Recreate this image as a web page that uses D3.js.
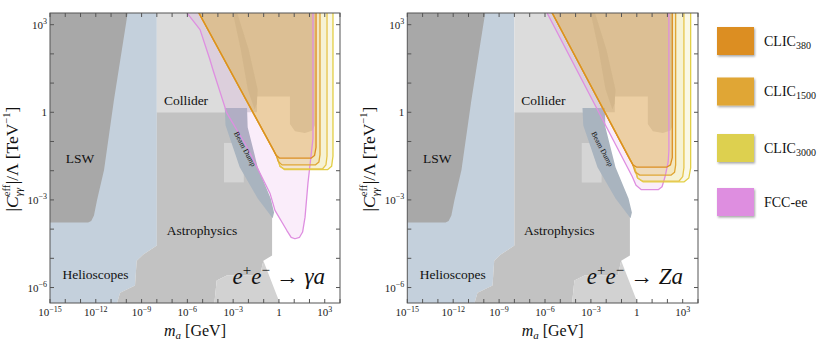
<!DOCTYPE html>
<html><head><meta charset="utf-8">
<script src="https://cdn.jsdelivr.net/npm/d3@7"></script>
<style>body{margin:0;background:#fff} svg{display:block}</style>
</head><body>
<svg id="c" width="831" height="341"></svg>
<script>
// ---------- data (log10 units: [log10 m_a/GeV, log10 C/Λ TeV^-1]) ----------
const xTickExps = [-15, -12, -9, -6, -3, 0, 3];
const yTickExps = [-6, -3, 0, 3];
const xMinorExps = d3.range(-15, 5);
const yMinorExps = d3.range(-6, 4);

const helioscopes = [[-15,3.6],[-8.0,3.6],[-8.0,-4.56],[-8.89,-4.87],[-9.32,-5.08],[-9.43,-5.93],[-10.41,-6.18],[-10.87,-7],[-15,-7]];
const lsw = [[-15,3.6],[-9.85,3.6],[-10.81,0.42],[-11.46,-1.98],[-11.92,-3.01],[-12.12,-3.53],[-12.3,-3.72],[-12.5,-3.77],[-15,-3.77]];
const collider = [[-8.0,3.6],[2.36,3.6],[2.36,-0.44],[2.2,-0.62],[1.7,-0.71],[1.05,-0.65],[0.72,-0.4],[0.72,0.54],[-1.44,0.54],[-1.44,0],[-8.0,0]];
const colliderDark = [[-3.1,3.6],[-2.85,3.6],[-1.98,2.14],[-1.39,0.77],[-1.45,0.3],[-1.59,0.1],[-1.8,0.4],[-2.04,0.77],[-2.5,2.14]];
const astro = [[-8,0],[-3.53,0],[-0.39,-3.4],[-0.45,-3.59],[-0.45,-4.9],[-1.02,-5.08],[-1.24,-5.59],[-3.42,-5.59],[-4.08,-5.76],[-4.32,-7],[-10.87,-7],[-10.41,-6.18],[-9.43,-5.93],[-9.32,-5.08],[-8.89,-4.87],[-8.0,-4.56]];
const astroLight = [[-4.32,-7],[-4.08,-5.76],[-3.42,-5.59],[-1.24,-5.59],[-1.02,-5.08],[0.07,-6.55],[0.12,-7]];
const astroRect = [[-3.6,-1.05],[-2.3,-1.05],[-2.3,-2.4],[-3.6,-2.4]];
const beamDump = [[-3.55,0.15],[-2.09,0.15],[-2.05,-0.51],[-1.39,-1.88],[-0.54,-2.95],[-0.32,-3.43],[-0.41,-3.63],[-1.39,-2.95],[-2.57,-1.88],[-3.5,-0.44]];

// e+e- -> gamma a
const clic380GA = [[-5.45,3.6],[-0.35,-1.3],[-0.2,-1.46],[0.05,-1.57],[2.1,-1.57],[2.33,-1.48],[2.43,-1.2],[2.43,3.6]];
const clic1500GA = [[-5.45,3.6],[-0.2,-1.45],[-0.05,-1.68],[0.2,-1.8],[2.4,-1.8],[2.62,-1.7],[2.69,-1.45],[2.69,3.6]];
const clic3000GA = [[-5.45,3.6],[-0.1,-1.55],[0.07,-1.85],[0.35,-1.96],[3.2,-1.96],[3.45,-1.85],[3.54,-1.5],[3.54,3.6]];
const clic3000bGA = [[-5.45,3.6],[-0.1,-1.55],[0.07,-1.85],[0.35,-1.94],[2.85,-1.94],[3.08,-1.8],[3.15,-1.5],[3.15,3.6]];
const fccGA = [[-6.1,3.6],[-6.04,3.41],[-5.17,2.83],[-4.52,1.8],[-4.32,1.45],[-3.42,-0.02],[-2.11,-1.18],[-0.59,-2.77],[-0.26,-3.36],[0.51,-4.04],[0.8,-4.28],[1.05,-4.33],[1.35,-4.28],[1.55,-4.1],[1.71,-3.59],[1.9,-2.43],[2.1,-1.5],[2.23,-0.9],[2.23,3.6]];
// e+e- -> Z a
const clic380ZA = [[-5.73,3.6],[-0.45,-1.62],[-0.25,-1.8],[0.0,-1.88],[1.95,-1.88],[2.2,-1.8],[2.32,-1.55],[2.32,3.6]];
const clic1500ZA = [[-5.73,3.6],[-0.3,-1.75],[-0.1,-2.05],[0.2,-2.15],[2.25,-2.15],[2.47,-2.05],[2.54,-1.8],[2.54,3.6]];
const clic3000ZA = [[-5.73,3.6],[-0.15,-1.9],[0.05,-2.25],[0.4,-2.38],[3.1,-2.38],[3.4,-2.25],[3.52,-1.9],[3.52,3.6]];
const clic3000bZA = [[-5.73,3.6],[-0.15,-1.9],[0.05,-2.25],[0.4,-2.36],[2.75,-2.36],[3.0,-2.2],[3.08,-1.9],[3.08,3.6]];
const fccZA = [[-6.06,3.6],[-0.3,-2.2],[-0.05,-2.5],[0.3,-2.65],[1.4,-2.65],[1.65,-2.55],[1.85,-2.2],[2.05,-1.7],[2.1,-1.3],[2.1,3.6]];

const legendNames = ["CLIC", "CLIC", "CLIC", "FCC-ee"];
const legendSubs = ["380", "1500", "3000", ""];
const legendColors = ["#dc8e22", "#e0a634", "#ddd050", "#de8ee0"];

// ---------- drawing ----------
const svg = d3.select('#c');
const SERIF = "'Liberation Serif', 'DejaVu Serif', serif";
const pTop = 13, pBottom = 303;
const yS = d3.scaleLog().domain([10**-6.53, 10**3.4]).range([pBottom, pTop]);

const defs = svg.append('defs');
const flt = defs.append('filter').attr('id','sh').attr('x','-20%').attr('y','-20%').attr('width','150%').attr('height','150%');
flt.append('feDropShadow').attr('dx',1).attr('dy',1.5).attr('stdDeviation',1.2).attr('flood-color','#000').attr('flood-opacity',0.35);

const panels = [
  {left:50, right:340, proc:'γa', c380:clic380GA, c1500:clic1500GA, c3000:clic3000GA, c3000b:clic3000bGA, fcc:fccGA},
  {left:407.3, right:698, proc:'Za', c380:clic380ZA, c1500:clic1500ZA, c3000:clic3000ZA, c3000b:clic3000bZA, fcc:fccZA}
];

function supLabel(sel, e){
  if(e===0){ sel.text('1'); return; }
  sel.append('tspan').text('10');
  sel.append('tspan').attr('dy',-4.5).attr('font-size',8).text(e<0 ? '−'+(-e) : String(e));
}

panels.forEach((p,i)=>{
  const xS = d3.scaleLog().domain([1e-15, 1e4]).range([p.left, p.right]);
  const line = d3.line().x(d=>xS(10**d[0])).y(d=>yS(10**d[1]));
  const cid = 'clip'+i;
  defs.append('clipPath').attr('id',cid).append('rect')
    .attr('x',p.left).attr('y',pTop).attr('width',p.right-p.left).attr('height',pBottom-pTop);
  const g = svg.append('g').attr('clip-path',`url(#${cid})`);
  g.append('rect').attr('x',p.left).attr('y',pTop).attr('width',p.right-p.left).attr('height',pBottom-pTop).attr('fill','#fff');
  const poly = (d,fill)=>g.append('path').attr('d',line(d)+'Z').attr('fill',fill);
  poly(helioscopes,'#c4d0dc');
  poly(lsw,'#a8a8a8');
  poly(collider,'#dcdcdc');
  poly(colliderDark,'#cacaca');
  poly(astro,'#c2c2c2');
  poly(astroLight,'#d2d2d2');
  poly(astroRect,'#d5d5d5');
  poly(beamDump,'#a9b4bf');

  // overlays
  const fills = [[p.fcc,'#de8ee0',0.16],[p.c3000,'#ddd050',0.14],[p.c3000b,'#ddd050',0.12],[p.c1500,'#e0a634',0.13],[p.c380,'#dc8e22',0.15]];
  fills.forEach(([d,c,o])=>g.append('path').attr('d',line(d)+'Z').attr('fill',c).attr('fill-opacity',o));
  const strokes = [[p.fcc,'#de8ee0'],[p.c3000,'#e2cf45'],[p.c3000b,'#e6c54a'],[p.c1500,'#e0a634'],[p.c380,'#dc8e22']];
  strokes.forEach(([d,c])=>g.append('path').attr('d',line(d)).attr('fill','none').attr('stroke',c).attr('stroke-width',1.3).attr('stroke-linejoin','round'));

  // region labels
  const txt = (x,y,s,fs)=>svg.append('text').attr('x',x).attr('y',y).attr('text-anchor','middle')
    .attr('dominant-baseline','central').attr('font-family',SERIF).attr('font-size',fs).attr('fill','#111').text(s);
  txt(p.left+136, 100, 'Collider', 13.5);
  txt(p.left+30, 158, 'LSW', 13.5);
  txt(p.left+152, 230, 'Astrophysics', 13.5);
  txt(p.left+45.5, 274.5, 'Helioscopes', 13.5);
  svg.append('text').attr('font-family',SERIF).attr('font-size',7.5).attr('fill','#111')
    .attr('text-anchor','middle').attr('dominant-baseline','central')
    .attr('transform',`translate(${p.left+195},149) rotate(62)`).text('Beam Dump');

  // process label
  const pt = svg.append('text').attr('x',p.right-15).attr('y',284).attr('text-anchor','end')
    .attr('font-family',SERIF).attr('font-size',23).attr('fill','#111');
  pt.append('tspan').attr('font-style','italic').text('e');
  pt.append('tspan').attr('dy',-9).attr('font-size',15).text('+');
  pt.append('tspan').attr('dy',9).attr('font-style','italic').text('e');
  pt.append('tspan').attr('dy',-9).attr('font-size',15).text('−');
  pt.append('tspan').attr('dy',9).text(' → ');
  pt.append('tspan').attr('font-style','italic').text(p.proc);

  // frame
  svg.append('rect').attr('x',p.left).attr('y',pTop).attr('width',p.right-p.left).attr('height',pBottom-pTop)
    .attr('fill','none').attr('stroke','#555').attr('stroke-width',1);
  // ticks
  xMinorExps.forEach(e=>{
    const x = xS(10**e);
    svg.append('line').attr('x1',x).attr('x2',x).attr('y1',pBottom).attr('y2',pBottom-4).attr('stroke','#555');
    svg.append('line').attr('x1',x).attr('x2',x).attr('y1',pTop).attr('y2',pTop+4).attr('stroke','#555');
  });
  yMinorExps.forEach(e=>{
    const y = yS(10**e);
    svg.append('line').attr('x1',p.left).attr('x2',p.left+4).attr('y1',y).attr('y2',y).attr('stroke','#555');
    svg.append('line').attr('x1',p.right).attr('x2',p.right-4).attr('y1',y).attr('y2',y).attr('stroke','#555');
  });
  xTickExps.forEach(e=>{
    const t = svg.append('text').attr('x',xS(10**e)).attr('y',316).attr('text-anchor','middle')
      .attr('font-family',SERIF).attr('font-size',11).attr('fill','#222');
    supLabel(t,e);
  });
  yTickExps.forEach(e=>{
    const t = svg.append('text').attr('x',p.left-3).attr('y',yS(10**e)+4).attr('text-anchor','end')
      .attr('font-family',SERIF).attr('font-size',11).attr('fill','#222');
    supLabel(t,e);
  });
  // x label
  const xl = svg.append('text').attr('x',(p.left+p.right)/2).attr('y',336).attr('text-anchor','middle')
    .attr('font-family',SERIF).attr('font-size',16).attr('fill','#111');
  xl.append('tspan').attr('font-style','italic').text('m');
  xl.append('tspan').attr('font-style','italic').attr('font-size',11).attr('dy',3).text('a');
  xl.append('tspan').attr('dy',-3).text(' [GeV]');

  // y label
  const yl = svg.append('g').attr('transform',`translate(${p.left-38.5},159) rotate(-90)`);
  let cx = 0;
  const put = (s,fs,dy,it)=>{
    const t = yl.append('text').attr('x',cx).attr('y',dy).attr('font-family',SERIF).attr('font-size',fs)
      .attr('font-style',it?'italic':'normal').attr('fill','#111').text(s);
    return t.node().getComputedTextLength();
  };
  cx += put('|',17.5,6,false);
  cx += put('C',17.5,6,true);
  const sx = cx;
  const w1 = put('eff',10.5,-2,false);
  const w2 = put('γγ',10.5,10,true);
  cx = sx + Math.max(w1,w2) + 0.5;
  cx += put('|/Λ [TeV',17.5,6,false);
  cx += put('−1',10.5,-2,false);
  cx += put(']',17.5,6,false);
  yl.selectAll('text').attr('transform',`translate(${-cx/2},0)`);
});

// legend
legendNames.forEach((n,i)=>{
  const yTop = [27, 77.5, 134, 188][i];
  svg.append('rect').attr('x',717).attr('y',yTop).attr('width',37).attr('height',28)
    .attr('fill',legendColors[i]).attr('filter','url(#sh)');
  const t = svg.append('text').attr('x',764).attr('y',yTop+18.5).attr('font-family',SERIF)
    .attr('font-size',14).attr('fill','#111');
  t.append('tspan').text(n);
  if(legendSubs[i]) t.append('tspan').attr('dy',3).attr('font-size',10).text(legendSubs[i]);
});
</script>
</body></html>
